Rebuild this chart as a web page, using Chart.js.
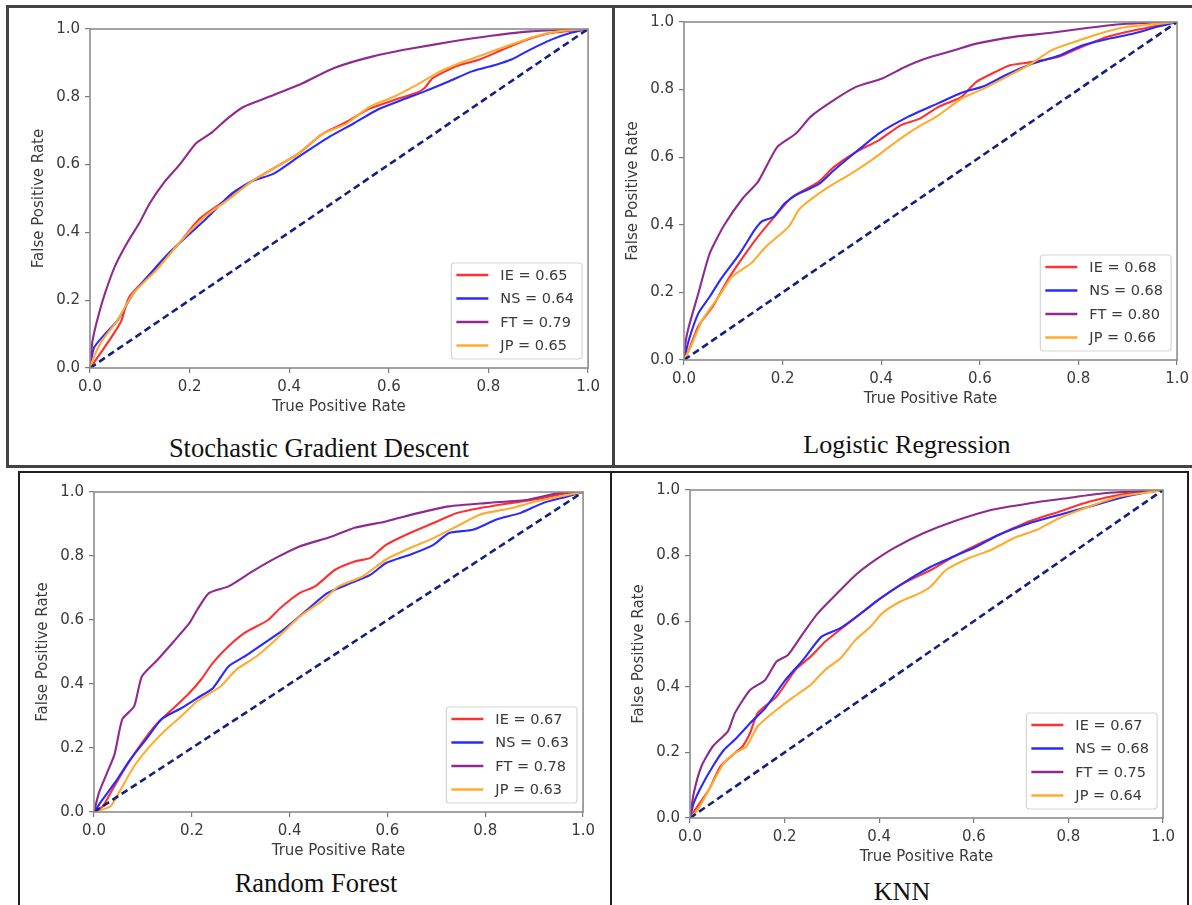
<!DOCTYPE html>
<html lang="en">
<head>
<meta charset="UTF-8">
<title>ROC curves</title>
<script src="https://cdn.jsdelivr.net/npm/chart.js"></script>
<style>
  body { margin: 0; background: #fff; width: 1192px; height: 905px; overflow: hidden; position: relative; }
  .box { position: absolute; box-sizing: border-box; }
  .title { position: absolute; font-family: "Liberation Serif", "Times New Roman", serif; font-size: 26px; color: #111; white-space: nowrap; transform: translate(-50%, -50%); }
  canvas { position: absolute; }
</style>
</head>
<body>
<!-- table borders -->
<div class="box" style="left:6px;top:5px;width:1220px;height:463px;border:3px solid #434343;"></div>
<div class="box" style="left:612px;top:5px;width:3px;height:463px;background:#434343;"></div>
<div class="box" style="left:18px;top:471px;width:1171px;height:500px;border:2px solid #1e1e1e;"></div>
<div class="box" style="left:610px;top:471px;width:2px;height:500px;background:#1e1e1e;"></div>

<div class="title" style="left:319px;top:448px;font-size:26.5px;">Stochastic Gradient Descent</div>
<div class="title" style="left:907px;top:445px;">Logistic Regression</div>
<div class="title" style="left:316px;top:883px;font-size:26.5px;">Random Forest</div>
<div class="title" style="left:902px;top:892px;">KNN</div>

<canvas id="c0"></canvas>
<canvas id="c1"></canvas>
<canvas id="c2"></canvas>
<canvas id="c3"></canvas>

<script>
// class names and tick values
const classNames = ['IE', 'NS', 'FT', 'JP'];
const tickValues = [0, 0.2, 0.4, 0.6, 0.8, 1.0];
const chanceLine = [[0, 0], [1, 1]];

// Stochastic Gradient Descent  [fpr, tpr]
const sgdAUC = [0.65, 0.64, 0.79, 0.65];
const sgdIE = [[0,0],[0.024,0.05],[0.047,0.10],[0.063,0.14],[0.079,0.21],[0.134,0.295],[0.18,0.37],[0.22,0.44],[0.277,0.5],[0.324,0.55],[0.37,0.59],[0.42,0.634],[0.466,0.69],[0.514,0.725],[0.561,0.765],[0.61,0.79],[0.656,0.812],[0.672,0.826],[0.688,0.855],[0.735,0.89],[0.782,0.91],[0.83,0.94],[0.877,0.968],[0.925,0.988],[1,1]];
const sgdNS = [[0,0],[0.008,0.06],[0.03,0.1],[0.055,0.14],[0.087,0.22],[0.134,0.30],[0.166,0.35],[0.23,0.436],[0.285,0.515],[0.324,0.55],[0.37,0.574],[0.42,0.624],[0.482,0.683],[0.53,0.722],[0.577,0.762],[0.625,0.79],[0.672,0.816],[0.72,0.845],[0.767,0.875],[0.814,0.894],[0.846,0.91],[0.877,0.934],[0.925,0.968],[0.964,0.988],[1,1]];
const sgdFT = [[0,0],[0.005,0.08],[0.016,0.15],[0.03,0.22],[0.05,0.3],[0.075,0.37],[0.1,0.43],[0.12,0.486],[0.15,0.55],[0.18,0.60],[0.213,0.663],[0.245,0.695],[0.277,0.737],[0.308,0.77],[0.37,0.806],[0.427,0.84],[0.49,0.885],[0.57,0.92],[0.648,0.943],[0.727,0.963],[0.806,0.98],[0.885,0.993],[1,1]];
const sgdJP = [[0,0],[0.01,0.04],[0.024,0.08],[0.055,0.14],[0.087,0.22],[0.134,0.29],[0.18,0.37],[0.23,0.446],[0.277,0.496],[0.324,0.55],[0.37,0.59],[0.42,0.634],[0.466,0.69],[0.514,0.72],[0.561,0.77],[0.61,0.80],[0.656,0.835],[0.703,0.875],[0.751,0.904],[0.798,0.929],[0.846,0.954],[0.893,0.978],[0.94,0.993],[1,1]];

// Logistic Regression
const lrAUC = [0.68, 0.68, 0.80, 0.66];
const lrIE = [[0,0],[0.01,0.03],[0.029,0.10],[0.059,0.16],[0.09,0.24],[0.12,0.305],[0.15,0.365],[0.189,0.433],[0.22,0.483],[0.273,0.527],[0.303,0.57],[0.349,0.616],[0.395,0.65],[0.44,0.695],[0.478,0.714],[0.516,0.749],[0.562,0.778],[0.593,0.823],[0.631,0.852],[0.661,0.872],[0.707,0.882],[0.76,0.897],[0.806,0.926],[0.859,0.956],[0.912,0.975],[1,1]];
const lrNS = [[0,0],[0.01,0.06],[0.029,0.138],[0.052,0.187],[0.075,0.24],[0.113,0.315],[0.143,0.384],[0.158,0.41],[0.181,0.423],[0.204,0.463],[0.227,0.488],[0.273,0.52],[0.303,0.56],[0.349,0.616],[0.395,0.67],[0.455,0.72],[0.516,0.76],[0.562,0.79],[0.608,0.81],[0.653,0.843],[0.707,0.877],[0.76,0.90],[0.806,0.93],[0.859,0.95],[0.912,0.966],[0.958,0.985],[1,1]];
const lrFT = [[0,0],[0.004,0.06],[0.01,0.10],[0.029,0.197],[0.052,0.315],[0.082,0.40],[0.12,0.48],[0.15,0.527],[0.189,0.63],[0.227,0.67],[0.257,0.72],[0.303,0.768],[0.349,0.808],[0.402,0.833],[0.448,0.867],[0.486,0.89],[0.547,0.916],[0.593,0.936],[0.669,0.956],[0.745,0.968],[0.821,0.983],[0.897,0.995],[1,1]];
const lrJP = [[0,0],[0.014,0.04],[0.037,0.118],[0.075,0.197],[0.097,0.246],[0.136,0.286],[0.166,0.335],[0.212,0.394],[0.235,0.448],[0.288,0.507],[0.334,0.547],[0.379,0.59],[0.425,0.64],[0.47,0.685],[0.516,0.724],[0.562,0.773],[0.608,0.803],[0.653,0.837],[0.699,0.872],[0.745,0.916],[0.79,0.94],[0.844,0.966],[0.897,0.985],[1,1]];

// Random Forest
const rfAUC = [0.67, 0.63, 0.78, 0.63];
const rfIE = [[0,0],[0.018,0.018],[0.034,0.06],[0.066,0.143],[0.098,0.216],[0.13,0.278],[0.163,0.325],[0.195,0.372],[0.219,0.414],[0.243,0.466],[0.275,0.518],[0.308,0.56],[0.356,0.60],[0.38,0.636],[0.42,0.684],[0.452,0.705],[0.493,0.757],[0.533,0.783],[0.565,0.794],[0.597,0.835],[0.646,0.872],[0.694,0.903],[0.742,0.934],[0.79,0.95],[0.855,0.966],[0.919,0.981],[0.968,0.997],[1,1]];
const rfNS = [[0,0],[0.018,0.04],[0.042,0.09],[0.074,0.164],[0.106,0.226],[0.138,0.29],[0.179,0.325],[0.211,0.356],[0.243,0.387],[0.275,0.455],[0.308,0.486],[0.348,0.528],[0.388,0.57],[0.436,0.632],[0.477,0.684],[0.517,0.71],[0.565,0.741],[0.597,0.778],[0.646,0.804],[0.694,0.835],[0.726,0.872],[0.775,0.882],[0.823,0.914],[0.871,0.934],[0.919,0.966],[0.968,0.986],[1,1]];
const rfFT = [[0,0],[0.01,0.06],[0.026,0.12],[0.042,0.18],[0.058,0.29],[0.082,0.33],[0.098,0.424],[0.13,0.476],[0.163,0.533],[0.195,0.59],[0.211,0.632],[0.235,0.684],[0.275,0.705],[0.324,0.752],[0.372,0.794],[0.42,0.83],[0.485,0.86],[0.533,0.888],[0.597,0.908],[0.662,0.934],[0.726,0.955],[0.807,0.966],[0.887,0.976],[0.952,0.997],[1,1]];
const rfJP = [[0,0],[0.034,0.018],[0.058,0.08],[0.082,0.143],[0.114,0.205],[0.147,0.257],[0.179,0.30],[0.211,0.346],[0.259,0.393],[0.291,0.445],[0.332,0.486],[0.372,0.539],[0.42,0.61],[0.469,0.663],[0.5,0.705],[0.549,0.736],[0.597,0.789],[0.646,0.825],[0.694,0.856],[0.742,0.893],[0.79,0.93],[0.855,0.95],[0.903,0.97],[0.952,0.986],[1,1]];

// KNN
const knnAUC = [0.67, 0.68, 0.75, 0.64];
const knnIE = [[0,0],[0.016,0.036],[0.04,0.086],[0.064,0.157],[0.095,0.198],[0.111,0.218],[0.127,0.259],[0.143,0.32],[0.183,0.37],[0.223,0.452],[0.255,0.492],[0.286,0.538],[0.326,0.584],[0.366,0.629],[0.398,0.665],[0.445,0.711],[0.509,0.756],[0.557,0.797],[0.605,0.832],[0.652,0.863],[0.716,0.904],[0.78,0.934],[0.843,0.964],[0.907,0.985],[1,1]];
const knnNS = [[0,0],[0.008,0.046],[0.024,0.096],[0.048,0.157],[0.072,0.208],[0.095,0.239],[0.127,0.289],[0.159,0.335],[0.199,0.416],[0.239,0.482],[0.278,0.553],[0.318,0.579],[0.366,0.629],[0.398,0.665],[0.445,0.711],[0.509,0.766],[0.557,0.797],[0.605,0.827],[0.652,0.863],[0.716,0.898],[0.78,0.924],[0.843,0.949],[0.907,0.975],[0.955,0.99],[1,1]];
const knnFT = [[0,0],[0.008,0.076],[0.024,0.157],[0.048,0.218],[0.08,0.264],[0.095,0.32],[0.127,0.39],[0.159,0.421],[0.183,0.477],[0.207,0.497],[0.239,0.563],[0.27,0.624],[0.318,0.695],[0.35,0.741],[0.382,0.777],[0.43,0.822],[0.493,0.868],[0.557,0.904],[0.636,0.939],[0.716,0.959],[0.796,0.975],[0.875,0.99],[1,1]];
const knnJP = [[0,0],[0.016,0.025],[0.04,0.086],[0.072,0.168],[0.095,0.198],[0.119,0.218],[0.143,0.279],[0.183,0.33],[0.215,0.365],[0.255,0.406],[0.286,0.452],[0.318,0.487],[0.35,0.543],[0.382,0.584],[0.406,0.624],[0.445,0.66],[0.485,0.685],[0.509,0.706],[0.541,0.756],[0.589,0.792],[0.636,0.817],[0.684,0.853],[0.732,0.878],[0.78,0.914],[0.843,0.949],[0.907,0.98],[0.955,0.99],[1,1]];

const colors = ['#ff3030', '#2a2aff', '#8f2a8f', '#ffab2e'];
const tickFont = { family: 'DejaVu Sans', size: 15 };
const inkColor = '#3a3a3a';

// plot area of each panel on the page: left, top, right, bottom
const panels = [
  { id: 'c0', area: [90, 29, 590, 368], curves: [sgdIE, sgdNS, sgdFT, sgdJP], auc: sgdAUC },
  { id: 'c1', area: [684, 22, 1179, 360], curves: [lrIE, lrNS, lrFT, lrJP], auc: lrAUC },
  { id: 'c2', area: [94, 492, 585, 812], curves: [rfIE, rfNS, rfFT, rfJP], auc: rfAUC },
  { id: 'c3', area: [690, 490, 1165, 818], curves: [knnIE, knnNS, knnFT, knnJP], auc: knnAUC }
];

const PAD_L = 70, PAD_T = 15, PAD_R = 15, PAD_B = 55;

// frame + matplotlib style legend inside the axes
const frameAndLegend = {
  id: 'frameAndLegend',
  afterDatasetsDraw(chart) {
    const { ctx, chartArea: a } = chart;
    ctx.save();
    ctx.strokeStyle = '#8c8c8c';
    ctx.lineWidth = 1.6;
    ctx.strokeRect(a.left, a.top, a.right - a.left, a.bottom - a.top);

    const items = chart.data.datasets.filter(d => d.label);
    ctx.font = '14.5px "DejaVu Sans"';
    const textW = Math.max(...items.map(d => ctx.measureText(d.label).width));
    const rowH = 23.5;
    const w = 49 + textW + 8, h = 96;
    const x = a.right - 6 - w, y = a.bottom - 9 - h;
    ctx.fillStyle = 'rgba(255,255,255,0.85)';
    ctx.strokeStyle = '#d6d6d6';
    ctx.lineWidth = 1.2;
    ctx.beginPath();
    ctx.roundRect(x, y, w, h, 3);
    ctx.fill();
    ctx.stroke();
    items.forEach((d, i) => {
      const cy = y + 12 + i * rowH;
      ctx.strokeStyle = d.borderColor;
      ctx.lineWidth = 2.5;
      ctx.beginPath();
      ctx.moveTo(x + 5, cy);
      ctx.lineTo(x + 37, cy);
      ctx.stroke();
      ctx.fillStyle = inkColor;
      ctx.textBaseline = 'middle';
      ctx.fillText(d.label, x + 49, cy + 1);
    });
    ctx.restore();
  }
};

function axis(titleText, isX) {
  return {
    type: 'linear',
    min: 0,
    max: 1,
    afterBuildTicks: s => { s.ticks = tickValues.map(v => ({ value: v })); },
    afterFit: s => { if (isX) s.height = PAD_B; else s.width = PAD_L; },
    ticks: { font: tickFont, color: inkColor, padding: 5, callback: v => v.toFixed(1), autoSkip: false, maxRotation: 0 },
    grid: { drawOnChartArea: false, drawTicks: true, tickLength: 5, color: '#7a7a7a', lineWidth: 1.2 },
    border: { display: false },
    title: {
      display: true,
      text: titleText,
      color: inkColor,
      font: { family: 'DejaVu Sans', size: 15 },
      padding: isX ? { top: 0, bottom: 7 } : { top: 10, bottom: 0 }
    }
  };
}

function renderPanel(p) {
  const [L, T, R, B] = p.area;
  const canvas = document.getElementById(p.id);
  canvas.width = R - L + PAD_L + PAD_R;
  canvas.height = B - T + PAD_T + PAD_B;
  canvas.style.left = (L - PAD_L) + 'px';
  canvas.style.top = (T - PAD_T) + 'px';

  const datasets = p.curves.map((curve, i) => ({
    label: classNames[i] + ' = ' + p.auc[i].toFixed(2),
    data: curve.map(pt => ({ x: pt[0], y: pt[1] })),
    borderColor: colors[i],
    borderWidth: 2.1,
    pointRadius: 0,
    tension: 0.2,
    order: 10 - i
  }));
  datasets.push({
    data: chanceLine.map(pt => ({ x: pt[0], y: pt[1] })),
    borderColor: '#14207e',
    borderWidth: 2.6,
    borderDash: [7, 4],
    pointRadius: 0,
    order: 1
  });

  new Chart(canvas.getContext('2d'), {
    type: 'line',
    data: { datasets: datasets },
    options: {
      responsive: false,
      animation: false,
      layout: { padding: { top: PAD_T, right: PAD_R, left: 0, bottom: 0 } },
      plugins: { legend: { display: false }, tooltip: { enabled: false } },
      scales: {
        x: axis('True Positive Rate', true),
        y: axis('False Positive Rate', false)
      }
    },
    plugins: [frameAndLegend]
  });
}

panels.forEach(renderPanel);
</script>
</body>
</html>
